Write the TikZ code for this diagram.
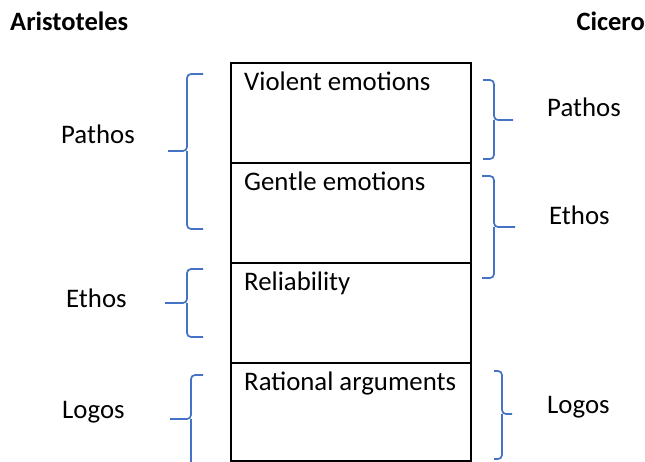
\documentclass[tikz,border=0pt]{standalone}
\usepackage{fontspec}
\setmainfont{Carlito}
\begin{document}
\begin{tikzpicture}[x=1pt,y=-1pt,
  txt/.style={anchor=base west,inner sep=0pt,font=\fontsize{26.8}{30}\selectfont},
  head/.style={anchor=base west,inner sep=0pt,font=\fontsize{26.5}{30}\selectfont\bfseries},
  cell/.style={draw=black,line width=1.6pt,minimum width=240pt,minimum height=100pt,anchor=north west,inner sep=0pt},
  brace/.style={draw={rgb,255:red,68;green,114;blue,196},line width=1.7pt,rounded corners=4pt}]
\useasboundingbox (0,0) rectangle (645,461);
% cells
\node[cell] (c1) at (230,62) {};
\node[cell] (c2) at (230,162) {};
\node[cell] (c3) at (230,262) {};
\node[cell,minimum height=98pt] (c4) at (230,362) {};
\node[txt] (t1) at (244,90) {Violent emotions};
\node[txt] (t2) at (244,190) {Gentle emotions};
\node[txt] (t3) at (244,290) {Reliability};
\node[txt] (t4) at (244,390) {Rational arguments};
% headers
\node[head] (aris) at (10,30) {Aristoteles};
\node[head,anchor=base east] (cic) at (645,30) {Cicero};
% left labels
\node[txt] (lp) at (61,143) {Pathos};
\node[txt] (le) at (66,307) {Ethos};
\node[txt] (ll) at (62,418) {Logos};
% right labels
\node[txt] (rp) at (547,116) {Pathos};
\node[txt] (re) at (549,224) {Ethos};
\node[txt] (rl) at (547,413) {Logos};
% left braces
\draw[brace] (203,74) -- (187,74) -- (187,151) -- (168,151);
\draw[brace] (187,151) -- (187,229) -- (203,229);
\draw[brace] (203,269) -- (187,269) -- (187,303) -- (165,303);
\draw[brace] (187,303) -- (187,337) -- (203,337);
\draw[brace] (203,375) -- (191,375) -- (191,419) -- (170,419);
\draw[brace] (191,419) -- (191,470);
% right braces
\draw[brace] (483,80) -- (494,80) -- (494,120) -- (513,120);
\draw[brace] (494,120) -- (494,159) -- (483,159);
\draw[brace] (482,176) -- (494,176) -- (494,227) -- (515,227);
\draw[brace] (494,227) -- (494,278) -- (482,278);
\draw[brace] (494,371) -- (502,371) -- (502,414) -- (512,414);
\draw[brace] (502,414) -- (502,459) -- (494,459);
\end{tikzpicture}
\end{document}
